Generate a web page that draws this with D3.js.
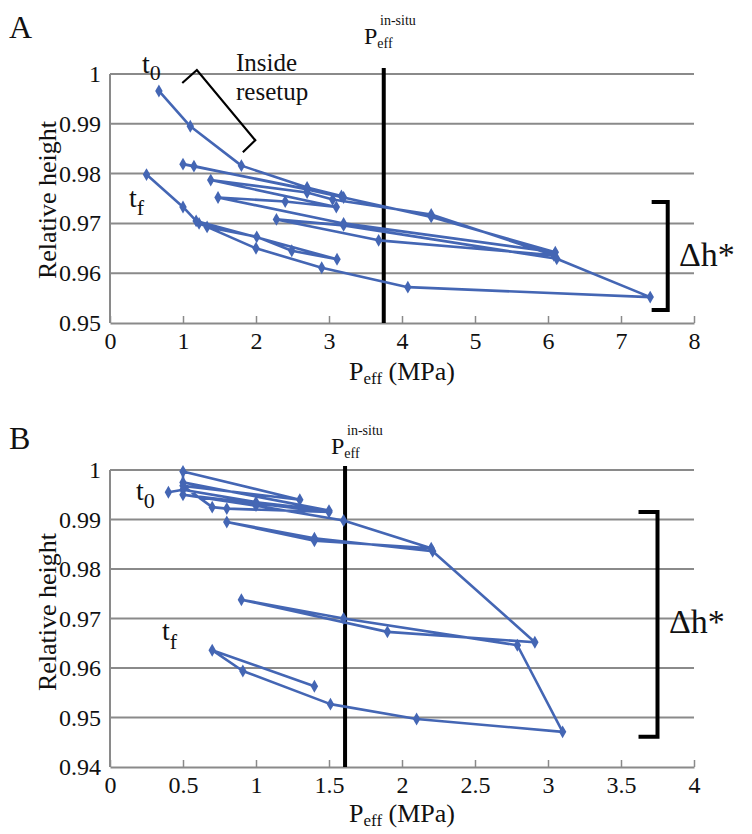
<!DOCTYPE html>
<html><head><meta charset="utf-8">
<script src="https://cdn.jsdelivr.net/npm/d3@7"></script>
<style>body{margin:0;background:#fff}</style>
</head><body>
<svg id="c" width="752" height="834" font-family="Liberation Serif"></svg>
<script>
// Panel A data: [Peff (MPa), relative height]
const pathA = [
 [0.67,0.9966],[1.10,0.9895],[1.80,0.9816],[2.70,0.9772],[3.17,0.9755],
 [1.00,0.9819],[1.15,0.9815],[2.70,0.9768],[3.20,0.9752],[4.40,0.9713],[6.10,0.9642],
 [3.20,0.9700],[1.48,0.9752],[2.40,0.9744],[3.10,0.9733],[1.38,0.9787],[2.70,0.9762],[3.05,0.9748],[4.40,0.9718],[6.08,0.9636],
 [3.68,0.9666],[2.28,0.9708],[3.20,0.9696],[6.12,0.9629],[7.40,0.9552],
 [4.08,0.9572],[2.90,0.9611],[2.00,0.9650],[1.22,0.9700],[1.33,0.9693],[2.01,0.9673],[2.49,0.9645],[3.11,0.9628],
 [1.18,0.9705],[1.00,0.9733],[0.50,0.9798]
];
// Panel B data
const pathB = [
 [0.40,0.9955],[0.50,0.9960],[1.00,0.9935],[1.50,0.9918],[0.50,0.9975],[0.50,0.9997],[1.30,0.9940],
 [0.50,0.9968],[0.70,0.9925],[0.80,0.9922],[1.50,0.9915],[0.50,0.9950],[1.00,0.9928],[1.60,0.9898],
 [2.20,0.9842],[1.40,0.9857],[0.80,0.9895],[1.40,0.9862],[2.21,0.9836],[2.91,0.9652],
 [1.90,0.9673],[0.90,0.9738],[1.60,0.9700],[2.79,0.9646],[3.10,0.9471],[2.10,0.9497],
 [1.51,0.9527],[0.91,0.9594],[0.70,0.9636],[1.40,0.9563]
];
const xTicksA = [0,1,2,3,4,5,6,7,8];
const yTicksA = [0.95,0.96,0.97,0.98,0.99,1];
const yLabelsA = ["0.95","0.96","0.97","0.98","0.99","1"];
const xTicksB = [0,0.5,1,1.5,2,2.5,3,3.5,4];
const xLabelsB = ["0","0.5","1","1.5","2","2.5","3","3.5","4"];
const yTicksB = [0.94,0.95,0.96,0.97,0.98,0.99,1];
const yLabelsB = ["0.94","0.95","0.96","0.97","0.98","0.99","1"];
const insituA = 3.75, insituB = 1.61;
const bracketA = {x:7.64, serif:7.42, y0:0.9743, y1:0.9526};
const bracketB = {x:3.75, serif:3.62, y0:0.9915, y1:0.9461};
const resetupA = [[0.99,0.9982],[1.19,1.0008],[1.99,0.9867],[1.82,0.9843]];

const FONT = "Liberation Serif";
const svg = d3.select("#c");
const BLUE = "#4466b4", GRID = "#8a8a8a";

function setFont(sel){ sel.attr("font-family",FONT).style("font-family",'"'+FONT+'"').attr("text-anchor","start"); }
function anchor(sel, how){
  sel.each(function(){
    const n=this, w=n.getComputedTextLength();
    const x0=+(n.getAttribute("x")||0);
    n.setAttribute("x", how==="middle"? x0-w/2 : x0-w);
  });
}

function panel(o){
  const x = d3.scaleLinear().domain(o.xd).range([110,694]);
  const y = d3.scaleLinear().domain(o.yd).range([o.bottom,o.top]);
  const g = svg.append("g");
  g.selectAll(".gl").data(o.yt.slice(1)).join("line")
    .attr("x1",110).attr("x2",694).attr("y1",d=>y(d)).attr("y2",d=>y(d))
    .attr("stroke",GRID).attr("stroke-width",2);
  g.append("line").attr("x1",110).attr("x2",110).attr("y1",y(o.yd[0])).attr("y2",y(o.yd[1]))
    .attr("stroke",GRID).attr("stroke-width",2);
  const xa = g.append("g").attr("transform",`translate(0,${o.bottom})`)
    .call(d3.axisBottom(x).tickValues(o.xt).tickSizeInner(-7).tickSizeOuter(0).tickPadding(10)
      .tickFormat((d,i)=>o.xl[i]));
  xa.attr("font-family",FONT).attr("text-anchor","start");
  xa.select(".domain").attr("stroke",GRID).attr("stroke-width",2);
  xa.selectAll(".tick line").attr("stroke",GRID).attr("stroke-width",1.5);
  const xt = xa.selectAll("text").attr("fill","#111").attr("x",0).attr("y",26).attr("dy",null)
    .style("font-size","24px");
  setFont(xt); anchor(xt,"middle");
  const yl = g.selectAll(".yl").data(o.yt).join("text")
    .attr("x",101).attr("y",d=>y(d)+8)
    .style("font-size","24px").attr("fill","#111").text((d,i)=>o.yl[i]);
  setFont(yl); anchor(yl,"end");
  g.append("line").attr("x1",x(o.insitu)).attr("x2",x(o.insitu)).attr("y1",o.lineTop).attr("y2",o.bottom)
    .attr("stroke","#000").attr("stroke-width",4);
  g.append("path").datum(o.data)
    .attr("d",d3.line().x(d=>x(d[0])).y(d=>y(d[1])))
    .attr("fill","none").attr("stroke",BLUE).attr("stroke-width",2.6).attr("stroke-linejoin","round");
  g.selectAll(".pt").data(o.data).join("path")
    .attr("d",d3.symbol(d3.symbolDiamond,48))
    .attr("transform",d=>`translate(${x(d[0])},${y(d[1])})`).attr("fill",BLUE);
  const b=o.br;
  g.append("path").attr("d",`M${x(b.serif)},${y(b.y0)}H${x(b.x)}V${y(b.y1)}H${x(b.serif)}`)
    .attr("fill","none").attr("stroke","#000").attr("stroke-width",4);
  return {x,y,g};
}

const A = panel({xd:[0,8],yd:[0.95,1],top:74,bottom:323,data:pathA,xt:xTicksA,xl:xTicksA.map(String),
  yt:yTicksA,yl:yLabelsA,insitu:insituA,lineTop:68,br:bracketA});
const B = panel({xd:[0,4],yd:[0.94,1],top:470,bottom:767,data:pathB,xt:xTicksB,xl:xLabelsB,
  yt:yTicksB,yl:yLabelsB,insitu:insituB,lineTop:466,br:bracketB});

A.g.append("path").datum(resetupA).attr("d",d3.line().x(d=>A.x(d[0])).y(d=>A.y(d[1])))
  .attr("fill","none").attr("stroke","#000").attr("stroke-width",2.2);

function txt(x,y,s,size){const t=svg.append("text").attr("x",x).attr("y",y).style("font-size",size+"px")
  .attr("fill","#111").text(s); setFont(t); return t;}
function sub(x,y,main,subs,size,ss,dy){
  const t=svg.append("text").attr("x",x).attr("y",y).style("font-size",size+"px").attr("fill","#111");
  setFont(t);
  t.append("tspan").attr("font-family",FONT).text(main);
  t.append("tspan").attr("font-family",FONT).style("font-size",ss+"px").attr("dy",dy).text(subs);
  return t;
}
txt(9,38,"A",32); txt(9,449,"B",32);
[200,612].forEach(cy=>{
  const t=svg.append("text").attr("transform",`translate(56,${cy}) rotate(-90)`).attr("x",0).attr("y",0)
   .style("font-size","26px").attr("fill","#111").text("Relative height");
  setFont(t); anchor(t,"middle");
});
[380,822].forEach(yy=>{
  const t=sub(0,yy,"P","eff",26,17,4);
  t.append("tspan").attr("font-family",FONT).attr("dy",-4).text(" (MPa)");
  t.attr("x",402); anchor(t,"middle");
});
function insitu(px,base){
  sub(px,base,"P","eff",24,14,4);
  txt(px+16,base-19,"in-situ",14);
}
insitu(364,44); insitu(331,454);
sub(142,73,"t","0",28,22,7);
sub(129,207,"t","f",28,22,8);
sub(136,500,"t","0",28,22,8);
sub(162,640,"t","f",28,22,9);
txt(236,71,"Inside",25); txt(236,100,"resetup",25);
txt(679,266,"Δh*",34); txt(669,633,"Δh*",34);
</script>
</body></html>
